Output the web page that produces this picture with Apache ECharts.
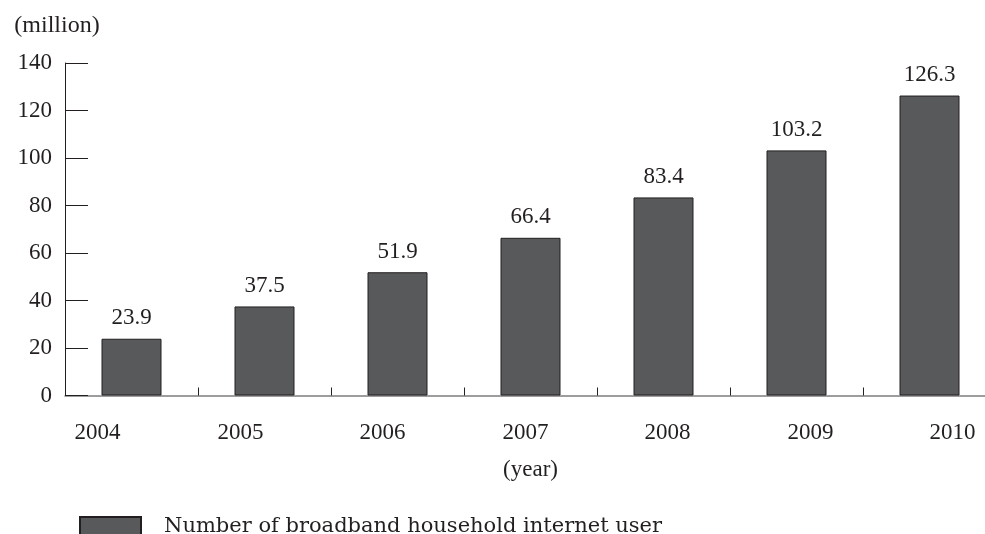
<!DOCTYPE html>
<html>
<head>
<meta charset="utf-8">
<script src="https://cdn.jsdelivr.net/npm/echarts@6/dist/echarts.min.js"></script>
<style>
html,body{margin:0;padding:0;background:#fff;}
#chart{width:985px;height:534px;}
</style>
</head>
<body>
<div id="chart"></div>
<script>
// ---- data ----
var categories = ['2004', '2005', '2006', '2007', '2008', '2009', '2010'];
var values = [23.9, 37.5, 51.9, 66.4, 83.4, 103.2, 126.3];
var seriesName = 'Number of broadband household internet user';
var yAxisTitle = '(million)';
var xAxisTitle = '(year)';
var yMin = 0, yMax = 140, yStep = 20;

// ---- styling ----
var FONT = '"Liberation Serif", "DejaVu Serif", serif';
var TEXT = '#231f20';
// horizontal shift of each category label (px), as in the reference layout
var labelShift = [-34, -24, -15, -5, 4, 14, 23];
var rich = {};
labelShift.forEach(function (s, i) {
  rich['c' + i] = {
    fontFamily: FONT, fontSize: 23, color: TEXT,
    padding: s < 0 ? [0, -2 * s, 0, 0] : [0, 0, 0, 2 * s]
  };
});

var chart = echarts.init(document.getElementById('chart'), null, {renderer: 'canvas'});
chart.setOption({
  animation: false,
  backgroundColor: '#fff',
  textStyle: {fontFamily: FONT, color: TEXT},
  grid: {left: 65, top: 63, width: 931, height: 332.5, containLabel: false, outerBoundsMode: 'none'},
  legend: {
    left: 79, top: 516, padding: 0,
    itemWidth: 61, itemHeight: 20,
    icon: 'rect',
    data: [seriesName],
    textStyle: {fontFamily: '"DejaVu Serif", serif', fontSize: 21, color: TEXT, padding: [0, 0, 0, 18]}
  },
  xAxis: {
    type: 'category',
    data: categories,
    name: xAxisTitle,
    nameLocation: 'middle',
    nameGap: 63,
    nameTextStyle: {fontFamily: FONT, fontSize: 23, color: TEXT},
    axisLine: {lineStyle: {color: '#7d7d7d', width: 1.5}},
    axisTick: {show: true, inside: true, length: 8, lineStyle: {color: TEXT, width: 1}},
    axisLabel: {
      margin: 26,
      formatter: function (v, i) { return '{c' + i + '|' + v + '}'; },
      rich: rich
    }
  },
  yAxis: {
    type: 'value',
    min: yMin, max: yMax, interval: yStep,
    name: yAxisTitle,
    nameLocation: 'end',
    nameGap: 25,
    nameTextStyle: {fontFamily: FONT, fontSize: 24, color: TEXT, align: 'center', padding: [0, 16, 0, 0]},
    axisLine: {show: true, lineStyle: {color: TEXT, width: 1}},
    axisTick: {show: true, inside: true, length: 23, lineStyle: {color: TEXT, width: 1}},
    splitLine: {show: false},
    axisLabel: {margin: 13, fontFamily: FONT, fontSize: 23, color: TEXT}
  },
  series: [{
    name: seriesName,
    type: 'bar',
    data: values,
    barWidth: 60,
    itemStyle: {color: '#58595b', borderColor: '#231f20', borderWidth: 1},
    label: {
      show: true, position: 'top', distance: 9,
      fontFamily: FONT, fontSize: 23, color: TEXT
    }
  }]
});
</script>
</body>
</html>
